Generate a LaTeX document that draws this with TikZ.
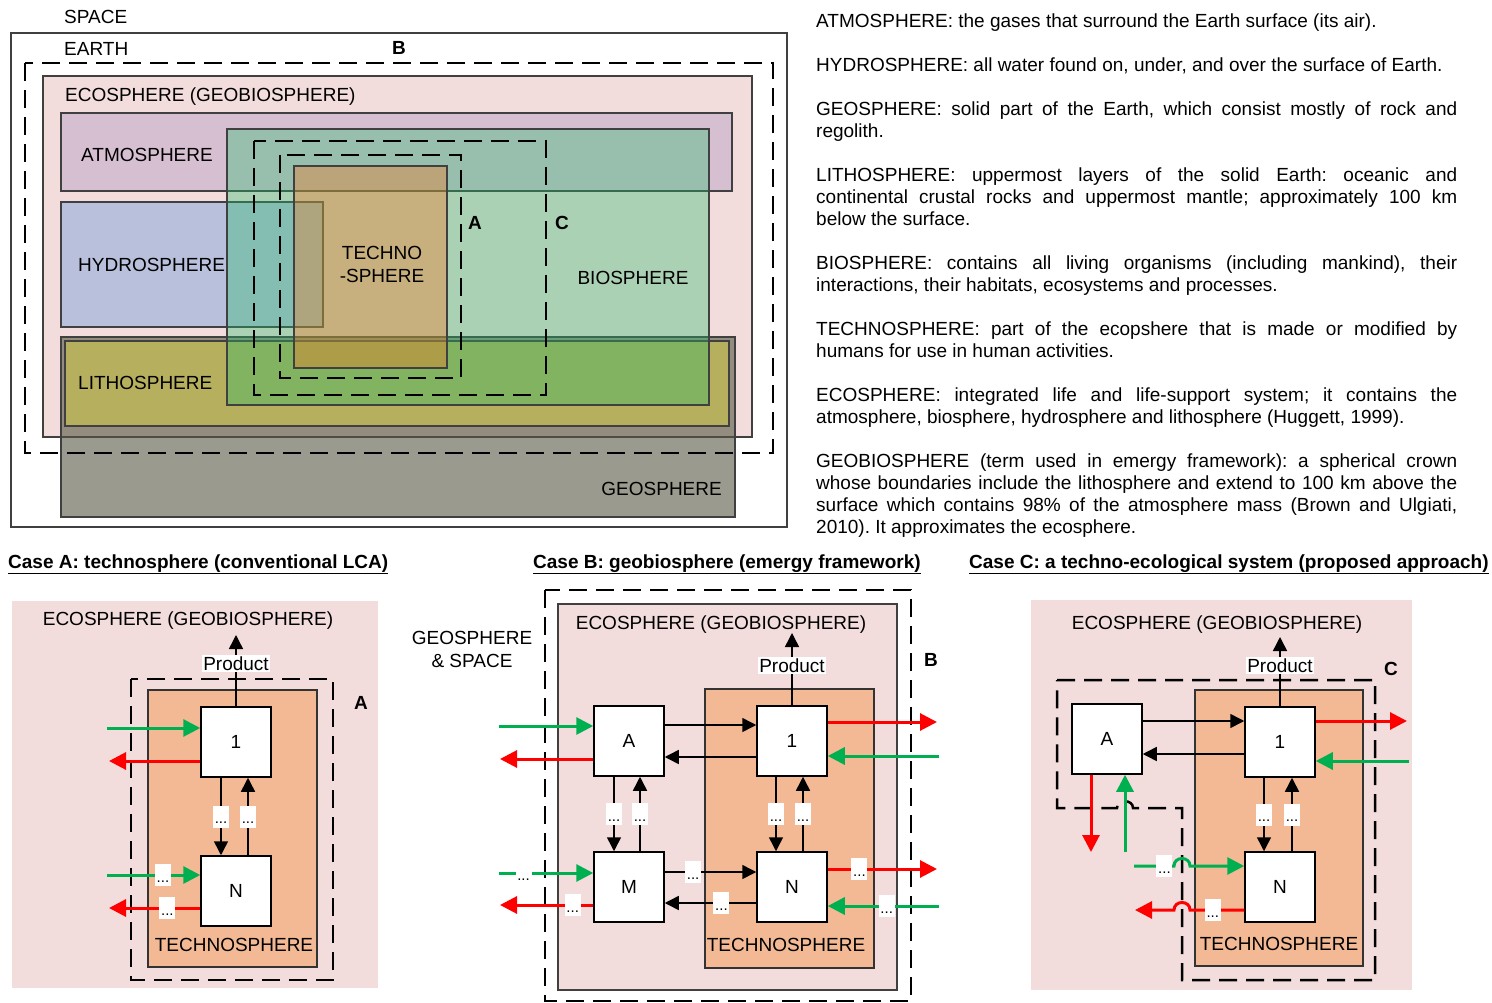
\documentclass[tikz,border=0pt]{standalone}
\usepackage{fontspec}
\setmainfont{Liberation Sans}
\usetikzlibrary{arrows.meta}

\definecolor{ecopink}{RGB}{242,221,220}
\definecolor{atmocol}{RGB}{215,191,210}
\definecolor{hydrocol}{RGB}{184,192,220}
\definecolor{lithocol}{RGB}{181,175,94}
\definecolor{geocol}{RGB}{88,87,68}
\definecolor{biocol}{RGB}{36,189,105}
\definecolor{techcol}{RGB}{255,117,26}
\definecolor{technofill}{RGB}{242,185,148}
\definecolor{flowgreen}{RGB}{0,176,80}
\definecolor{flowred}{RGB}{255,0,0}

\begin{document}
\frenchspacing
\begin{tikzpicture}[x=1pt, y=-1pt,
  lbl/.style={font=\fontsize{19}{23}\selectfont, inner sep=0pt},
  tag/.style={font=\fontsize{19}{23}\selectfont\bfseries, inner sep=0pt},
  head/.style={font=\fontsize{19}{23}\selectfont\bfseries, inner sep=0pt},
  deftext/.style={font=\fontsize{19}{22}\selectfont, inner sep=0pt,
                  text width=641pt, align=justify},
  sphere/.style={draw=black!75, line width=1.2pt},
  bound/.style={draw=black, line width=2.5pt, dash pattern=on 18pt off 9pt},
  techbox/.style={draw=black!80, fill=technofill, line width=1.5pt},
  proc/.style={draw, fill=white, line width=1.5pt, minimum size=70pt,
               inner sep=0pt, font=\fontsize{19}{23}\selectfont},
  link/.style={line width=1.5pt, -{Triangle[length=14pt, width=14pt]}},
  gflow/.style={draw=flowgreen, line width=3pt, -{Triangle[length=17pt, width=17pt]}},
  rflow/.style={draw=flowred, line width=3pt, -{Triangle[length=17pt, width=17pt]}},
  dots/.style={fill=white, inner xsep=1pt, inner ysep=4pt, minimum width=16pt,
               text height=14pt, text depth=0pt, font=\fontsize{15}{15}\selectfont},
  prodlbl/.style={fill=white, inner sep=1.5pt, font=\fontsize{19}{23}\selectfont}
]
\useasboundingbox (0,0) rectangle (1492,1003);

% spheres overview
\node[lbl, anchor=west] (space) at (64,17) {SPACE};
\draw[sphere, fill=white] (11,33) rectangle (787,527);
\node[lbl, anchor=west] (earth) at (64,49) {EARTH};
\node[tag] (tagB) at (399,48) {B};
\draw[sphere, fill=ecopink] (43,76) rectangle (752,437);
\node[lbl, anchor=base west] (eco) at (65,102) {ECOSPHERE (GEOBIOSPHERE)};
\draw[sphere, fill=geocol, fill opacity=0.6] (61,337) rectangle (735,517);
\draw[sphere, fill=lithocol] (65,341) rectangle (729,426);
\draw[sphere, fill=atmocol] (61,113) rectangle (732,191);
\draw[sphere, fill=hydrocol] (61,202) rectangle (323,327);
\draw[sphere, fill=biocol, fill opacity=0.35] (227,129) rectangle (709,405);
\draw[sphere, fill=techcol, fill opacity=0.35] (294,166) rectangle (447,368);
\node[lbl, anchor=west] (atmo) at (81,155) {ATMOSPHERE};
\node[lbl, anchor=west] (hydro) at (78,265) {HYDROSPHERE};
\node[lbl, anchor=west] (litho) at (78,383) {LITHOSPHERE};
\node[lbl, anchor=east] (geo) at (722,489) {GEOSPHERE};
\node[lbl] (bio) at (633,278) {BIOSPHERE};
\node[lbl, align=center] (techno) at (382,264) {TECHNO\\-SPHERE};
\draw[bound] (25,63) rectangle (773,453);
\draw[bound] (254,141) rectangle (546,395);
\draw[bound] (280,155) rectangle (461,378);
\node[tag] (tagA) at (475,223) {A};
\node[tag] (tagC) at (562,223) {C};

% definitions
\node[deftext, anchor=north west] (defs) at (816,14) {\setlength{\parindent}{0pt}\setlength{\parskip}{22pt}%
\hyphenpenalty=10000 \tolerance=10000
ATMOSPHERE: the gases that surround the Earth surface (its air).\par
HYDROSPHERE: all water found on, under, and over the surface of Earth.\par
GEOSPHERE: solid part of the Earth, which consist mostly of rock and\linebreak regolith.\par
LITHOSPHERE: uppermost layers of the solid Earth: oceanic and\linebreak continental crustal rocks and uppermost mantle; approximately 100~km\linebreak below the surface.\par
BIOSPHERE: contains all living organisms (including mankind), their\linebreak interactions, their habitats, ecosystems and processes.\par
TECHNOSPHERE: part of the ecopshere that is made or modified by\linebreak humans for use in human activities.\par
ECOSPHERE: integrated life and life-support system; it contains the\linebreak atmosphere, biosphere, hydrosphere and lithosphere (Huggett, 1999).\par
GEOBIOSPHERE (term used in emergy framework): a spherical crown\linebreak whose boundaries include the lithosphere and extend to 100~km above the\linebreak surface which contains 98\% of the atmosphere mass (Brown and Ulgiati,\linebreak 2010). It approximates the ecosphere.};

% headings
\node[head, anchor=base west] (headA) at (8,568) {\underline{Case A: technosphere (conventional LCA)}};
\node[head, anchor=base west] (headB) at (533,568) {\underline{Case B: geobiosphere (emergy framework)}};
\node[head, anchor=base west] (headC) at (969,568) {\underline{Case C: a techno-ecological system (proposed approach)}};

% case A
\fill[ecopink] (12,601) rectangle (378,988);
\node[lbl, anchor=base] (aEco) at (188,625) {ECOSPHERE (GEOBIOSPHERE)};
\draw[bound] (131,679) rectangle (333,980);
\node[tag] (aTag) at (361,703) {A};
\draw[techbox] (148,690) rectangle (317,967);
\node[lbl] (aTech) at (234,945) {TECHNOSPHERE};
\node[proc] (a1) at (236,742) {1};
\node[proc] (aN) at (236,891) {N};
\coordinate (aTop) at (236,635);
\draw[link] (a1) -- node[prodlbl, pos=0.6] {Product} (aTop);
\draw[link] ([xshift=-15pt]a1.south) -- node[dots] {...} ([xshift=-15pt]aN.north);
\draw[link] ([xshift=12pt]aN.north) -- node[dots] {...} ([xshift=12pt]a1.south);
\coordinate (aG1) at (107,728);
\coordinate (aR1) at (109,761);
\coordinate (aGN) at (107,875);
\coordinate (aRN) at (109,908);
\draw[gflow] (aG1) -- (aG1 -| a1.west);
\draw[rflow] (aR1 -| a1.west) -- (aR1);
\draw[gflow] (aGN) -- node[dots, pos=0.6] {...} (aGN -| aN.west);
\draw[rflow] (aRN -| aN.west) -- node[dots, pos=0.36] {...} (aRN);

% case B
\draw[bound] (545,590) rectangle (911,1001);
\draw[sphere, fill=ecopink] (558,604) rectangle (897,990);
\node[lbl, anchor=base] (bEco) at (721,629) {ECOSPHERE (GEOBIOSPHERE)};
\node[lbl, align=center] (bGeo) at (472,649) {GEOSPHERE\\\& SPACE};
\node[tag] (bTag) at (931,660) {B};
\draw[techbox] (705,689) rectangle (874,968);
\node[lbl] (bTech) at (786,945) {TECHNOSPHERE};
\node[proc] (bA) at (629,741) {A};
\node[proc] (b1) at (792,741) {1};
\node[proc] (bM) at (629,887) {M};
\node[proc] (bN) at (792,887) {N};
\coordinate (bTop) at (792,633);
\draw[link] (b1) -- node[prodlbl, pos=0.55] {Product} (bTop);
\draw[link] ([yshift=16pt]bA.east) -- ([yshift=16pt]bA.east -| b1.west);
\draw[link] ([yshift=-16pt]b1.west) -- ([yshift=-16pt]b1.west -| bA.east);
\draw[link] ([yshift=15pt]bM.east) -- node[dots, pos=0.31] {...} ([yshift=15pt]bM.east -| bN.west);
\draw[link] ([yshift=-16pt]bN.west) -- node[dots, pos=0.38] {...} ([yshift=-16pt]bN.west -| bM.east);
\draw[link] ([xshift=-15pt]bA.south) -- node[dots] {...} ([xshift=-15pt]bM.north);
\draw[link] ([xshift=11pt]bM.north) -- node[dots] {...} ([xshift=11pt]bA.south);
\draw[link] ([xshift=-16pt]b1.south) -- node[dots] {...} ([xshift=-16pt]bN.north);
\draw[link] ([xshift=11pt]bN.north) -- node[dots] {...} ([xshift=11pt]b1.south);
\coordinate (bGA) at (499,726);
\coordinate (bRA) at (500,759);
\coordinate (bGM) at (499,873);
\coordinate (bRM) at (500,905);
\coordinate (bR1) at (937,722);
\coordinate (bG1) at (939,756);
\coordinate (bRN) at (937,869);
\coordinate (bGN) at (939,906);
\draw[gflow] (bGA) -- (bGA -| bA.west);
\draw[rflow] (bRA -| bA.west) -- (bRA);
\draw[gflow] (bGM) -- node[dots, pos=0.26] {...} (bGM -| bM.west);
\draw[rflow] (bRM -| bM.west) -- node[dots, pos=0.22] {...} (bRM);
\draw[rflow] (bR1 -| b1.east) -- (bR1);
\draw[gflow] (bG1) -- (bG1 -| b1.east);
\draw[rflow] (bRN -| bN.east) -- node[dots, pos=0.29] {...} (bRN);
\draw[gflow] (bGN) -- node[dots, pos=0.47] {...} (bGN -| bN.east);

% case C
\fill[ecopink] (1031,600) rectangle (1412,990);
\node[lbl, anchor=base] (cEco) at (1217,629) {ECOSPHERE (GEOBIOSPHERE)};
\draw[techbox] (1195,690) rectangle (1363,966);
\node[lbl] (cTech) at (1279,944) {TECHNOSPHERE};
\draw[bound] (1057,680) -- (1375,680) -- (1375,980) -- (1182,980) -- (1182,808)
  -- (1133,808) .. controls (1133,799) and (1117,799) .. (1117,808) -- (1057,808) -- cycle;
\node[tag] (cTag) at (1391,669) {C};
\node[proc] (cA) at (1107,739) {A};
\node[proc] (c1) at (1280,742) {1};
\node[proc] (cN) at (1280,887) {N};
\coordinate (cTop) at (1280,637);
\draw[link] (c1) -- node[prodlbl, pos=0.59] {Product} (cTop);
\draw[link] ([yshift=18pt]cA.east) -- ([yshift=18pt]cA.east -| c1.west);
\draw[link] ([yshift=-12pt]c1.west) -- ([yshift=-12pt]c1.west -| cA.east);
\draw[link] ([xshift=-16pt]c1.south) -- node[dots] {...} ([xshift=-16pt]cN.north);
\draw[link] ([xshift=12pt]cN.north) -- node[dots] {...} ([xshift=12pt]c1.south);
\coordinate (cR1) at (1407,721);
\coordinate (cG1) at (1409,761);
\coordinate (cRA) at (1091,852);
\coordinate (cGA) at (1125,852);
\coordinate (cGN) at (1134,866);
\coordinate (cRN) at (1135,910);
\coordinate (cHopG) at (1182,866);
\coordinate (cHopR) at (1182,910);
\draw[rflow] (cR1 -| c1.east) -- (cR1);
\draw[gflow] (cG1) -- (cG1 -| c1.east);
\draw[rflow] (cRA |- cA.south) -- (cRA);
\draw[gflow] (cGA) -- (cGA |- cA.south);
\draw[gflow] (cGN) -- node[dots, pos=0.76] {...} ([xshift=-8pt]cHopG)
  .. controls +(0,-10) and +(0,-10) .. ([xshift=8pt]cHopG) -- (cGN -| cN.west);
\draw[rflow] (cRN -| cN.west) -- node[dots, pos=0.58] {...} ([xshift=8pt]cHopR)
  .. controls +(0,-10) and +(0,-10) .. ([xshift=-8pt]cHopR) -- (cRN);
\end{tikzpicture}
\end{document}
